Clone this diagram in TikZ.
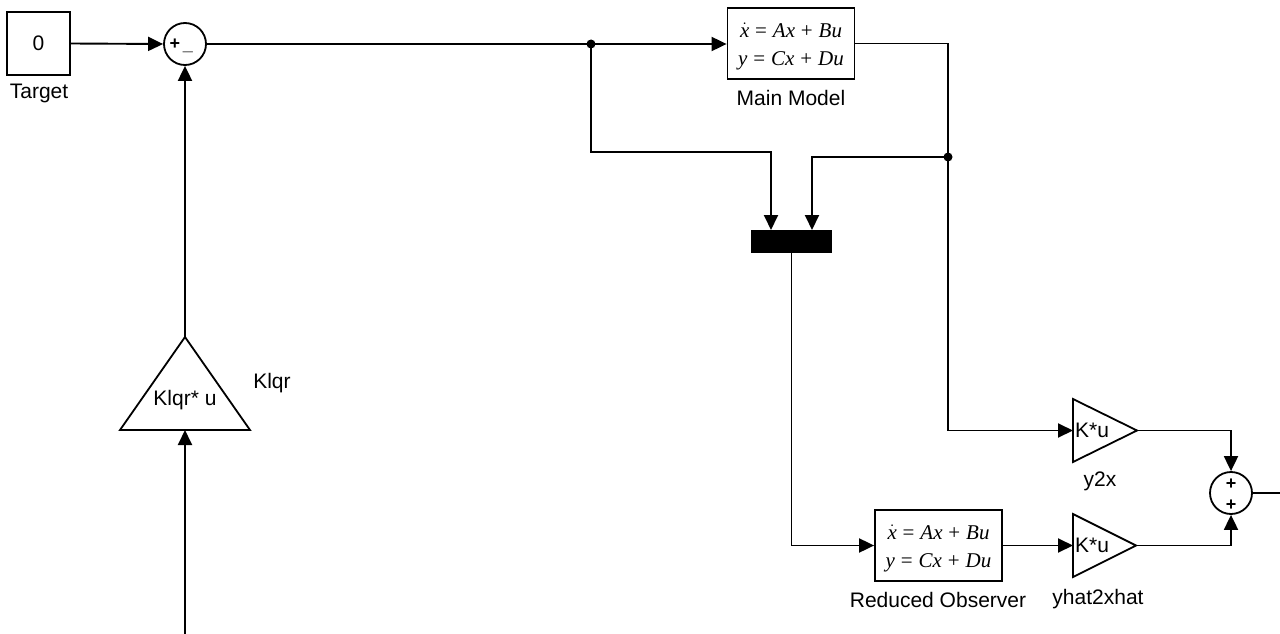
\documentclass[tikz,border=0pt]{standalone}
\usepackage{fontspec}
\setmainfont{Liberation Sans}
\newfontfamily\tms{Liberation Serif}
\usetikzlibrary{arrows.meta,calc}
\newcommand{\xdot}{$\dot{\hbox{\tms\itshape x}}$}
\newcommand{\rel}[1]{\hspace{0.28em}#1\hspace{0.28em}}
\begin{document}
\begin{tikzpicture}[x=1pt,y=-1pt,
  conn/.style={line width=1.9pt},
  arr/.style={conn,-{Triangle[length=15pt,width=14pt]}},
  blk/.style={draw,line width=1.8pt,inner sep=0pt,font=\fontsize{21}{24}\selectfont},
  sumc/.style={draw,circle,line width=1.8pt,minimum size=42pt,inner sep=0pt},
  lbl/.style={font=\fontsize{21}{24}\selectfont,inner sep=0pt},
  sgn/.style={font=\fontsize{18}{20}\selectfont\bfseries,inner sep=0pt},
  eqbox/.style={blk,minimum width=127pt,minimum height=71pt},
  eqtxt/.style={inner sep=0pt,align=center,font=\fontsize{21}{28}\selectfont\tms},
  tri/.style={draw,line width=1.8pt,line join=miter},
  jdot/.style={fill=black}
]
\useasboundingbox (0,0) rectangle (1280,634);
% blocks
\node[blk,minimum width=63pt,minimum height=63pt] (target) at (38.5,43.5) {0};
\node[lbl] (targetlbl) at (39,93) {Target};
\node[sumc] (sum1) at (185,44) {};
\node[sgn] (s1p) at (175,44) {+};
\node[sgn] (s1m) at (188,52) {\_};
\node[eqbox] (main) at (791,43.5) {};
\node[eqtxt] (maineq) at ($(main.center)+(0,3)$) {\xdot\rel{=}\textit{Ax}\rel{+}\textit{Bu}\\ \textit{y}\rel{=}\textit{Cx}\rel{+}\textit{Du}};
\node[lbl] (mainlbl) at (791,98) {Main Model};
\node[fill=black,minimum width=81pt,minimum height=23pt,inner sep=0pt] (mux) at (791.5,241.5) {};
\coordinate (min1) at (771,230);
\coordinate (min2) at (812,230);
\node[eqbox] (obs) at (938.5,545.5) {};
\node[eqtxt] (obseq) at ($(obs.center)+(0,3)$) {\xdot\rel{=}\textit{Ax}\rel{+}\textit{Bu}\\ \textit{y}\rel{=}\textit{Cx}\rel{+}\textit{Du}};
\node[lbl] (obslbl) at (938,600) {Reduced Observer};
% gain y2x
\draw[tri] (1073,399) -- (1137,430.5) -- (1073,462) -- cycle;
\coordinate (g1in) at (1073,430.5);
\coordinate (g1out) at (1137,430.5);
\node[lbl] (g1txt) at (1092,430.5) {K*u};
\node[lbl] (g1lbl) at (1100,481) {y2x};
% gain yhat2xhat
\draw[tri] (1073,514) -- (1136,545.5) -- (1073,577) -- cycle;
\coordinate (g2in) at (1073,545.5);
\coordinate (g2out) at (1136,545.5);
\node[lbl] (g2txt) at (1092,545.5) {K*u};
\node[lbl] (g2lbl) at (1098,599) {yhat2xhat};
% Klqr
\draw[tri] (185,337) -- (250,430) -- (120,430) -- cycle;
\coordinate (kout) at (185,337);
\coordinate (kin) at (185,430);
\node[lbl] (ktxt) at (185,400) {Klqr* u};
\node[lbl] (klbl) at (272,383) {Klqr};
% sum 2
\node[sumc] (sum2) at (1231,493) {};
\node[sgn] (s2p) at (1231,484) {+};
\node[sgn] (s2q) at (1231,505) {+};
% junctions / ends
\coordinate (j1) at (591,44);
\coordinate (j2) at (948,157);
\coordinate (outend) at (1280,493);
\coordinate (inend) at (185,634);
% connectors
\draw[arr] (target.east) -- (sum1.west);
\draw[arr] (sum1.east) -- (main.west |- sum1.east);
\draw[arr] (j1) -- (591,152) -| (min1);
\draw[arr] (main.east) -| (j2) |- (g1in);
\draw[arr] (j2) -| (min2);
\draw[arr] (mux.south) |- (obs.west);
\draw[arr] (obs.east) -- (g2in);
\draw[arr] (g1out) -| (sum2.north);
\draw[arr] (g2out) -| (sum2.south);
\draw[conn] (sum2.east) -- (outend);
\draw[arr] (kout) -- (sum1.south);
\draw[arr] (inend) -- (kin);
\fill[jdot] (j1) circle (4.5);
\fill[jdot] (j2) circle (4.5);
\end{tikzpicture}
\end{document}
